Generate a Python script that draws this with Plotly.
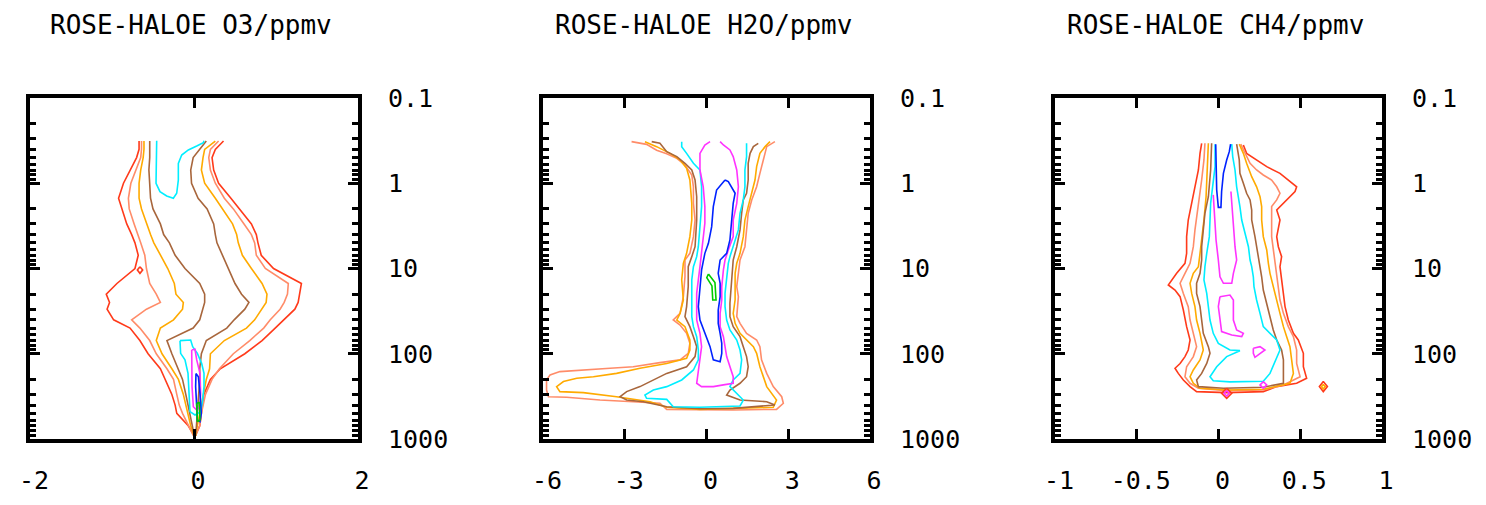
import plotly.graph_objects as go

# ---------------- data ----------------
# Contour level colours (lowest -> highest frequency level)
level_colors = ["#FF3A1A", "#FF8C69", "#FFAA00", "#A8663C",
                "#00EEFF", "#FF33FF", "#0022FF", "#00CC00"]

# Panel 1: ROSE-HALOE O3 (ppmv) -- left / right edge of each contour on a pressure grid (hPa)
o3_pressure = [0.32, 0.4, 0.5, 0.7, 1, 1.5, 2, 3, 4, 5, 7, 10, 15, 20, 25, 30,
               40, 50, 70, 100, 150, 200, 300, 400, 500, 700, 900]
o3_red_left = [-0.67, -0.67, -0.70, -0.78, -0.86, -0.92, -0.88, -0.82, -0.76, -0.72, -0.68, -0.72, -0.94, -1.07,
               -1.03, -1.06, -0.98, -0.78, -0.66, -0.56, -0.41, -0.35, -0.27, -0.23, -0.21, -0.07, 0.0]
o3_red_right = [0.36, 0.26, 0.22, 0.24, 0.30, 0.45, 0.56, 0.70, 0.76, 0.78, 0.82, 0.97, 1.31, 1.29,
                1.27, 1.23, 1.09, 0.99, 0.83, 0.62, 0.32, 0.20, 0.12, 0.10, 0.09, 0.07, 0.02]
o3_salmon_left = [-0.64, -0.64, -0.65, -0.71, -0.77, -0.80, -0.79, -0.73, -0.68, -0.65, -0.60, -0.58, -0.54, -0.46,
                  -0.41, -0.58, -0.76, -0.66, -0.54, -0.46, -0.33, -0.25, -0.21, -0.18, -0.14, -0.07, -0.01]
o3_salmon_right = [0.30, 0.20, 0.18, 0.20, 0.26, 0.37, 0.48, 0.61, 0.70, 0.74, 0.76, 0.87, 1.15, 1.14,
                   1.10, 1.05, 0.93, 0.85, 0.68, 0.48, 0.31, 0.22, 0.14, 0.11, 0.09, 0.07, 0.02]
o3_orange_left = [-0.61, -0.61, -0.62, -0.65, -0.67, -0.67, -0.64, -0.58, -0.53, -0.49, -0.41, -0.32, -0.24, -0.22,
                  -0.13, -0.14, -0.25, -0.41, -0.46, -0.39, -0.27, -0.19, -0.13, -0.10, -0.07, -0.04, 0.0]
o3_orange_right = [0.26, 0.13, 0.11, 0.09, 0.13, 0.26, 0.35, 0.47, 0.52, 0.54, 0.59, 0.70, 0.83, 0.89,
                   0.88, 0.83, 0.74, 0.64, 0.37, 0.20, 0.19, 0.15, 0.11, 0.09, 0.07, 0.04, 0.02]
o3_brown_left = [-0.54, -0.54, -0.54, -0.55, -0.54, -0.53, -0.50, -0.41, -0.37, -0.30, -0.23, -0.11, 0.07, 0.13,
                 0.13, 0.11, 0.07, -0.01, -0.33, -0.27, -0.19, -0.14, -0.10, -0.07, -0.05, -0.02, 0.0]
o3_brown_right = [0.15, 0.07, -0.01, -0.04, -0.03, 0.05, 0.16, 0.24, 0.26, 0.28, 0.35, 0.42, 0.50, 0.58,
                  0.67, 0.62, 0.49, 0.40, 0.15, 0.09, 0.07, 0.07, 0.06, 0.05, 0.04, 0.03, 0.02]
# inner O3 contours as (difference, pressure) paths
o3_cyan_upper = [(-0.455, 0.317), (-0.455, 0.533), (-0.463, 1.0), (-0.415, 1.255), (-0.333, 1.41), (-0.252, 1.5),
                 (-0.211, 1.31), (-0.191, 0.916), (-0.191, 0.584), (-0.150, 0.467), (-0.069, 0.407),
                 (0.033, 0.366), (0.114, 0.334), (0.122, 0.317)]
o3_cyan_lower = [(-0.171, 70.2), (-0.041, 69), (-0.016, 82.6), (0.041, 98.9), (0.093, 129.5), (0.122, 170),
                 (0.122, 243), (0.106, 349), (0.081, 478), (0.012, 523), (-0.049, 478), (-0.057, 291),
                 (-0.073, 170), (-0.110, 118), (-0.163, 98.9), (-0.171, 70.2)]
o3_magenta = [(-0.028, 90.4), (0.012, 88.7), (0.033, 118), (0.073, 170), (0.081, 291), (0.073, 418),
              (0.033, 457), (-0.008, 418), (-0.024, 243), (-0.028, 141.6), (-0.028, 90.4)]
o3_blue = [(0.024, 170), (0.053, 186), (0.073, 291), (0.089, 500), (0.073, 626), (0.041, 598),
           (0.033, 418), (0.020, 243), (0.024, 170)]
o3_green = [(0.033, 382), (0.065, 374), (0.073, 598), (0.041, 626), (0.033, 382)]
o3_red_spot = [(-0.659, 9.51), (-0.626, 10.4), (-0.659, 11.4), (-0.691, 10.4), (-0.659, 9.51)]

# Panel 2: ROSE-HALOE H2O (ppmv) contour paths (difference, pressure)
h2o_salmon = [(-2.75, 0.325), (-2.20, 0.35), (-1.83, 0.41), (-1.46, 0.45), (-1.09, 0.51), (-0.79, 0.61),
              (-0.54, 0.80), (-0.48, 1.10), (-0.48, 1.72), (-0.42, 2.70), (-0.48, 4.23), (-0.61, 6.64),
              (-0.79, 7.95), (-0.79, 12.5), (-0.85, 21.4), (-0.97, 33.6), (-1.22, 40.2), (-0.97, 46.0),
              (-0.73, 57.6), (-0.61, 75.5), (-0.67, 98.9), (-0.97, 118), (-1.71, 127), (-2.69, 142),
              (-3.54, 148), (-4.52, 155), (-5.38, 162), (-5.74, 177), (-5.87, 203), (-5.87, 266),
              (-5.80, 319), (-5.13, 324), (-3.91, 349), (-2.69, 365), (-1.71, 381), (-1.46, 449),
              (0.98, 457), (2.57, 449), (2.82, 381), (2.76, 319), (2.45, 243), (2.21, 170), (2.02, 118),
              (1.96, 82.6), (1.84, 69.0), (1.47, 57.6), (1.23, 44.0), (1.11, 36.7), (1.17, 21.4),
              (1.11, 16.3), (1.17, 10.4), (1.23, 7.95), (1.41, 5.55), (1.47, 3.53), (1.53, 2.25),
              (1.66, 1.57), (1.84, 1.10), (1.96, 0.766), (2.09, 0.533), (2.21, 0.372), (2.51, 0.325)]
h2o_orange = [(-2.26, 0.325), (-1.83, 0.372), (-1.34, 0.446), (-0.97, 0.533), (-0.73, 0.668), (-0.61, 0.916),
              (-0.54, 1.72), (-0.54, 2.70), (-0.61, 4.23), (-0.73, 6.64), (-0.85, 8.69), (-0.91, 13.6),
              (-0.85, 23.4), (-0.97, 33.6), (-1.09, 40.2), (-0.79, 48.1), (-0.61, 69.0), (-0.61, 90.4),
              (-0.73, 113), (-1.46, 130), (-2.44, 148), (-3.30, 170), (-4.15, 186), (-4.76, 194),
              (-5.25, 212), (-5.50, 243), (-5.38, 278), (-4.52, 286), (-3.30, 319), (-2.07, 365),
              (-1.46, 425), (-0.24, 449), (0.98, 437), (2.45, 425), (2.57, 349), (2.21, 243), (1.96, 142),
              (1.84, 98.9), (1.72, 82.6), (1.47, 69.0), (1.23, 57.6), (1.05, 44.0), (0.98, 33.6),
              (1.05, 23.4), (1.05, 11.4), (1.11, 8.69), (1.23, 6.64), (1.35, 4.23), (1.41, 2.70),
              (1.53, 1.88), (1.66, 1.31), (1.78, 0.916), (1.84, 0.639), (1.96, 0.446), (2.15, 0.372),
              (2.33, 0.325)]
h2o_brown = [(-2.01, 0.325), (-1.71, 0.34), (-1.46, 0.426), (-1.09, 0.487), (-0.79, 0.583), (-0.54, 0.699),
             (-0.42, 0.916), (-0.36, 1.44), (-0.36, 2.70), (-0.42, 5.55), (-0.54, 7.26), (-0.67, 9.51),
             (-0.67, 16.3), (-0.73, 28.0), (-0.79, 36.7), (-0.61, 48.1), (-0.48, 63.0), (-0.36, 82.6),
             (-0.42, 108), (-0.73, 142), (-1.46, 170), (-1.95, 203), (-2.44, 243), (-2.93, 278),
             (-3.17, 319), (-2.93, 349), (-2.32, 365), (-1.46, 418), (-0.24, 441), (0.98, 437),
             (2.51, 399), (2.21, 365), (1.23, 349), (0.74, 305), (0.86, 266), (1.23, 222), (1.47, 186),
             (1.53, 142), (1.47, 108), (1.35, 82.6), (1.23, 63.0), (0.98, 48.1), (0.86, 36.7),
             (0.86, 25.6), (0.92, 12.5), (0.98, 7.95), (1.11, 5.55), (1.23, 3.53), (1.29, 2.25),
             (1.35, 1.57), (1.47, 1.31), (1.53, 0.916), (1.53, 0.583), (1.60, 0.446), (1.72, 0.372),
             (1.90, 0.34)]
h2o_cyan = [(-0.91, 0.325), (-0.91, 0.372), (-0.73, 0.446), (-0.48, 0.583), (-0.24, 0.699), (-0.18, 1.10),
            (-0.18, 1.88), (-0.24, 3.23), (-0.30, 5.55), (-0.36, 7.26), (-0.48, 9.51), (-0.54, 13.6),
            (-0.54, 36.7), (-0.48, 48.1), (-0.36, 63.0), (-0.30, 90.4), (-0.30, 118), (-0.48, 155),
            (-0.91, 203), (-1.46, 243), (-1.95, 266), (-2.26, 305), (-2.20, 333), (-1.46, 343),
            (-1.22, 418), (-0.24, 425), (1.23, 410), (1.35, 349), (1.11, 291), (0.86, 243), (0.98, 203),
            (1.23, 170), (1.29, 118), (1.23, 90.4), (1.11, 69.0), (0.86, 52.6), (0.74, 40.2),
            (0.68, 28.0), (0.68, 19.6), (0.74, 12.5), (0.80, 8.69), (0.86, 7.26), (0.98, 5.55),
            (1.17, 3.53), (1.23, 2.25), (1.35, 1.57), (1.41, 1.10), (1.41, 0.699), (1.47, 0.487),
            (1.47, 0.34)]
h2o_magenta = [(0.13, 0.325), (-0.06, 0.356), (-0.24, 0.446), (-0.24, 0.699), (-0.12, 1.10), (-0.06, 1.88),
               (-0.06, 2.95), (-0.12, 4.63), (-0.18, 6.64), (-0.24, 9.51), (-0.30, 13.6), (-0.36, 19.6),
               (-0.36, 40.2), (-0.24, 57.6), (-0.18, 82.6), (-0.24, 118), (-0.30, 170), (-0.36, 222),
               (-0.18, 243), (0.25, 243), (0.62, 232), (0.98, 222), (0.98, 186), (0.86, 142), (0.74, 108),
               (0.68, 82.6), (0.62, 63.0), (0.50, 48.1), (0.50, 33.6), (0.56, 23.4), (0.56, 16.3),
               (0.62, 10.4), (0.68, 7.95), (0.80, 6.07), (0.98, 4.23), (0.98, 2.70), (1.11, 1.72),
               (1.17, 1.10), (1.11, 0.699), (0.98, 0.487), (0.86, 0.407), (0.62, 0.356), (0.50, 0.325)]
h2o_blue = [(0.68, 0.916), (0.37, 1.20), (0.25, 1.88), (0.19, 3.23), (0.07, 5.07), (-0.06, 6.64),
            (-0.18, 10.4), (-0.24, 16.3), (-0.30, 28.0), (-0.24, 40.2), (-0.06, 57.6), (0.13, 82.6),
            (0.25, 118), (0.50, 124), (0.56, 98.9), (0.56, 75.5), (0.50, 57.6), (0.43, 44.0), (0.43, 30.7),
            (0.50, 21.4), (0.50, 14.9), (0.43, 11.4), (0.50, 7.95), (0.74, 6.64), (0.86, 4.63),
            (0.92, 2.70), (0.98, 1.72), (1.05, 1.31), (0.92, 1.10), (0.80, 0.957), (0.68, 0.916)]
h2o_green = [(0.07, 11.6), (0.31, 14.6), (0.35, 23.4), (0.23, 23.4), (0.20, 16.0), (0.01, 12.8), (0.07, 11.6)]

# Panel 3: ROSE-HALOE CH4 (ppmv) contour paths (difference, pressure)
ch4_red = [(-0.103, 0.34), (-0.113, 0.446), (-0.123, 0.699), (-0.144, 1.10), (-0.164, 1.72), (-0.185, 2.70),
           (-0.195, 4.23), (-0.195, 6.64), (-0.205, 8.69), (-0.256, 11.4), (-0.307, 15.6), (-0.266, 17.9),
           (-0.235, 21.4), (-0.215, 30.7), (-0.195, 48.1), (-0.174, 69.0), (-0.185, 90.4), (-0.205, 108),
           (-0.235, 130), (-0.266, 148), (-0.246, 170), (-0.215, 203), (-0.174, 243), (-0.134, 278),
           (0.050, 286), (0.274, 278), (0.356, 243), (0.478, 222), (0.539, 194), (0.519, 142),
           (0.519, 98.9), (0.488, 69.0), (0.458, 57.6), (0.427, 40.2), (0.407, 28.0), (0.397, 19.6),
           (0.386, 13.6), (0.376, 9.51), (0.386, 7.26), (0.366, 5.55), (0.356, 4.23), (0.376, 2.70),
           (0.356, 2.06), (0.397, 1.72), (0.437, 1.44), (0.468, 1.25), (0.478, 1.10), (0.437, 0.957),
           (0.376, 0.766), (0.295, 0.639), (0.233, 0.533), (0.172, 0.446), (0.152, 0.356)]
ch4_salmon = [(-0.083, 0.34), (-0.089, 0.533), (-0.103, 0.916), (-0.117, 1.44), (-0.134, 2.25), (-0.144, 3.53),
              (-0.154, 5.55), (-0.174, 8.69), (-0.205, 11.4), (-0.235, 14.9), (-0.215, 19.6), (-0.185, 28.0),
              (-0.174, 40.2), (-0.154, 57.6), (-0.134, 82.6), (-0.154, 108), (-0.195, 142), (-0.205, 186),
              (-0.174, 222), (-0.123, 254), (0.050, 271), (0.274, 266), (0.397, 232), (0.499, 186),
              (0.478, 130), (0.478, 90.4), (0.458, 63.0), (0.427, 48.1), (0.397, 33.6), (0.376, 23.4),
              (0.366, 16.3), (0.356, 11.4), (0.346, 8.69), (0.335, 6.07), (0.325, 4.23), (0.325, 2.70),
              (0.325, 1.88), (0.356, 1.57), (0.376, 1.31), (0.356, 1.10), (0.325, 0.916), (0.274, 0.80),
              (0.233, 0.699), (0.193, 0.583), (0.162, 0.446), (0.136, 0.348)]
ch4_orange = [(-0.062, 0.34), (-0.068, 0.699), (-0.076, 1.44), (-0.089, 2.70), (-0.103, 4.23), (-0.113, 6.64),
              (-0.123, 9.51), (-0.154, 11.4), (-0.174, 14.9), (-0.164, 19.6), (-0.144, 28.0), (-0.134, 40.2),
              (-0.113, 57.6), (-0.093, 90.4), (-0.113, 118), (-0.154, 155), (-0.174, 186), (-0.154, 222),
              (-0.113, 254), (0.050, 266), (0.274, 261), (0.437, 222), (0.458, 170), (0.448, 118),
              (0.437, 82.6), (0.417, 63.0), (0.397, 48.1), (0.376, 33.6), (0.356, 23.4), (0.335, 16.3),
              (0.315, 11.4), (0.305, 8.69), (0.295, 6.07), (0.274, 4.23), (0.264, 2.70), (0.264, 1.88),
              (0.254, 1.44), (0.233, 1.10), (0.203, 0.838), (0.172, 0.583), (0.152, 0.446), (0.127, 0.348)]
ch4_brown = [(-0.042, 0.34), (-0.048, 0.699), (-0.062, 1.44), (-0.083, 2.25), (-0.093, 3.53), (-0.103, 5.55),
             (-0.103, 7.95), (-0.113, 11.4), (-0.134, 14.9), (-0.134, 19.6), (-0.113, 28.0), (-0.103, 40.2),
             (-0.093, 57.6), (-0.062, 82.6), (-0.052, 98.9), (-0.072, 130), (-0.103, 170), (-0.134, 203),
             (-0.123, 243), (0.030, 254), (0.274, 247), (0.397, 222), (0.397, 155), (0.397, 118),
             (0.386, 90.4), (0.356, 69.0), (0.335, 52.6), (0.315, 36.7), (0.295, 25.6), (0.274, 17.9),
             (0.264, 12.5), (0.254, 9.51), (0.244, 6.64), (0.223, 4.23), (0.203, 2.70), (0.203, 2.06),
             (0.193, 1.57), (0.172, 1.31), (0.152, 1.00), (0.131, 0.766), (0.127, 0.533), (0.121, 0.446),
             (0.111, 0.348)]
ch4_cyan = [(-0.021, 0.348), (-0.021, 0.639), (-0.036, 1.10), (-0.048, 1.72), (-0.052, 2.70), (-0.056, 4.23),
            (-0.072, 6.64), (-0.083, 9.51), (-0.089, 13.6), (-0.072, 19.6), (-0.062, 28.0), (-0.052, 40.2),
            (-0.032, 57.6), (-0.001, 75.5), (0.070, 90.4), (0.131, 92.0), (0.050, 108), (-0.011, 142),
            (-0.052, 186), (-0.032, 207), (0.070, 214), (0.274, 210), (0.315, 170), (0.376, 90.4),
            (0.356, 69.0), (0.315, 57.6), (0.274, 48.1), (0.254, 33.6), (0.233, 23.4), (0.217, 16.3),
            (0.213, 12.5), (0.203, 9.51), (0.193, 7.95), (0.183, 5.55), (0.162, 3.87), (0.142, 2.70),
            (0.131, 1.88), (0.111, 1.10), (0.101, 0.699), (0.087, 0.487), (0.081, 0.348)]
ch4_magenta_upper = [(-0.032, 1.37), (-0.021, 2.70), (-0.015, 4.63), (-0.001, 7.95), (0.009, 12.5),
                     (0.030, 14.9), (0.081, 14.9), (0.091, 11.4), (0.111, 7.95), (0.101, 5.55),
                     (0.091, 2.70), (0.081, 1.72), (0.076, 1.25)]
ch4_magenta_mid = [(0.009, 21.4), (0.070, 20.5), (0.091, 23.4), (0.091, 40.2), (0.111, 52.6), (0.152, 57.6),
                   (0.142, 63.0), (0.081, 60.2), (0.019, 55.0), (0.009, 40.2), (-0.001, 28.0), (0.009, 21.4)]
ch4_magenta_low = [(0.213, 86.4), (0.254, 82.6), (0.284, 90.4), (0.254, 98.9), (0.223, 110), (0.213, 98.9),
                   (0.213, 86.4)]
ch4_blue = [(-0.017, 0.348), (-0.015, 0.699), (-0.011, 1.20), (-0.001, 1.92), (0.015, 1.92), (0.019, 1.25),
            (0.030, 0.766), (0.050, 0.533), (0.066, 0.426), (0.074, 0.348)]
ch4_spot_red_a = [(0.050, 254), (0.081, 291), (0.050, 333), (0.019, 291), (0.050, 254)]
ch4_spot_mag_a = [(0.050, 271), (0.066, 291), (0.050, 313), (0.034, 291), (0.050, 271)]
ch4_spot_mag_b = [(0.274, 212), (0.295, 232), (0.274, 254), (0.254, 232), (0.274, 212)]
ch4_spot_red_c = [(0.641, 212), (0.666, 243), (0.641, 278), (0.617, 243), (0.641, 212)]
ch4_spot_orange_c = [(0.641, 229), (0.653, 243), (0.641, 259), (0.629, 243), (0.641, 229)]

# Titles and tick labels
titles = ["ROSE-HALOE O3/ppmv", "ROSE-HALOE H2O/ppmv", "ROSE-HALOE CH4/ppmv"]
x_ranges = [[-2, 2], [-6, 6], [-1, 1]]
x_tickvals = [[-2, 0, 2], [-6, -3, 0, 3, 6], [-1, -0.5, 0, 0.5, 1]]
x_ticktext = [["-2", "0", "2"], ["-6", "-3", "0", "3", "6"], ["-1", "-0.5", "0", "0.5", "1"]]
p_tickvals = [0.1, 1, 10, 100, 1000]
p_ticktext = ["0.1", "1", "10", "100", "1000"]
p_minor = [m * 10 ** e for e in range(-1, 3) for m in range(2, 10)]

# ---------------- figure ----------------
# the page body adds an 8 px margin, so the figure is 16 px smaller than the window
OFF = 8
W, H = 1486 - 2 * OFF, 505 - 2 * OFF
FONT = "DejaVu Sans Mono"
fig = go.Figure()


def add_path(pts, color, panel):
    xs = [p[0] for p in pts]
    ys = [p[1] for p in pts]
    suffix = "" if panel == 1 else str(panel)
    fig.add_trace(go.Scatter(x=xs, y=ys, mode="lines", line=dict(color=color, width=1.6),
                             xaxis="x" + suffix, yaxis="y" + suffix,
                             hoverinfo="skip", showlegend=False))


def add_band(left, right, pressure, color, panel):
    pts = list(zip(left, pressure)) + list(zip(right[::-1], pressure[::-1]))
    add_path(pts, color, panel)


C = level_colors
# panel 1
add_band(o3_red_left, o3_red_right, o3_pressure, C[0], 1)
add_band(o3_salmon_left, o3_salmon_right, o3_pressure, C[1], 1)
add_band(o3_orange_left, o3_orange_right, o3_pressure, C[2], 1)
add_band(o3_brown_left, o3_brown_right, o3_pressure, C[3], 1)
add_path(o3_red_spot, C[0], 1)
add_path(o3_cyan_upper, C[4], 1)
add_path(o3_cyan_lower, C[4], 1)
add_path(o3_magenta, C[5], 1)
add_path(o3_blue, C[6], 1)
add_path(o3_green, C[7], 1)
# panel 2
add_path(h2o_salmon, C[1], 2)
add_path(h2o_orange, C[2], 2)
add_path(h2o_brown, C[3], 2)
add_path(h2o_cyan, C[4], 2)
add_path(h2o_magenta, C[5], 2)
add_path(h2o_blue, C[6], 2)
add_path(h2o_green, C[7], 2)
# panel 3
add_path(ch4_red, C[0], 3)
add_path(ch4_salmon, C[1], 3)
add_path(ch4_orange, C[2], 3)
add_path(ch4_brown, C[3], 3)
add_path(ch4_cyan, C[4], 3)
add_path(ch4_magenta_upper, C[5], 3)
add_path(ch4_magenta_mid, C[5], 3)
add_path(ch4_magenta_low, C[5], 3)
add_path(ch4_blue, C[6], 3)
add_path(ch4_spot_red_a, C[0], 3)
add_path(ch4_spot_mag_a, C[5], 3)
add_path(ch4_spot_mag_b, C[5], 3)
add_path(ch4_spot_red_c, C[0], 3)
add_path(ch4_spot_orange_c, C[2], 3)

# panel geometry in window pixels -> paper domains
x_px = [(30, 358), (543, 870), (1055, 1382)]
y_top, y_bot = 98, 439
y_dom = [1 - (y_bot - OFF) / H, 1 - (y_top - OFF) / H]

layout = dict(width=W, height=H, margin=dict(l=0, r=0, t=0, b=0, pad=0), autosize=False,
              paper_bgcolor="white", plot_bgcolor="white", template="none",
              font=dict(family=FONT, size=25, color="black"), annotations=[])
for i in range(3):
    suffix = "" if i == 0 else str(i + 1)
    xa = dict(domain=[(x_px[i][0] - OFF) / W, (x_px[i][1] - OFF) / W], range=x_ranges[i],
              anchor="y" + suffix,
              showline=True, linewidth=4, linecolor="black", mirror="allticks",
              ticks="inside", ticklen=10, tickwidth=3, tickcolor="black",
              tickmode="array", tickvals=x_tickvals[i], ticktext=x_ticktext[i],
              tickfont=dict(family=FONT, size=25, color="black"),
              ticklabelstandoff=16, ticklabelshift=4,
              showgrid=False, zeroline=False, automargin=False, fixedrange=True)
    ya = dict(domain=y_dom, type="log", range=[3, -1], anchor="x" + suffix, side="right",
              showline=True, linewidth=4, linecolor="black", mirror="allticks",
              ticks="inside", ticklen=10, tickwidth=3, tickcolor="black",
              tickmode="array", tickvals=p_tickvals, ticktext=p_ticktext,
              tickfont=dict(family=FONT, size=25, color="black"),
              ticklabelstandoff=21,
              minor=dict(tickmode="array", tickvals=p_minor, ticks="inside", ticklen=6,
                         tickwidth=3, tickcolor="black", showgrid=False),
              showgrid=False, zeroline=False, automargin=False, fixedrange=True)
    layout["xaxis" + suffix] = xa
    layout["yaxis" + suffix] = ya
    layout["annotations"].append(dict(text=titles[i], xref="x" + suffix + " domain", x=0.5,
                                      yref="paper", y=1 - (25 - OFF) / H, xanchor="center",
                                      yanchor="middle", xshift=-3, showarrow=False,
                                      font=dict(family=FONT, size=26, color="black")))

fig.update_layout(**layout)
fig.write_html("out.html")
